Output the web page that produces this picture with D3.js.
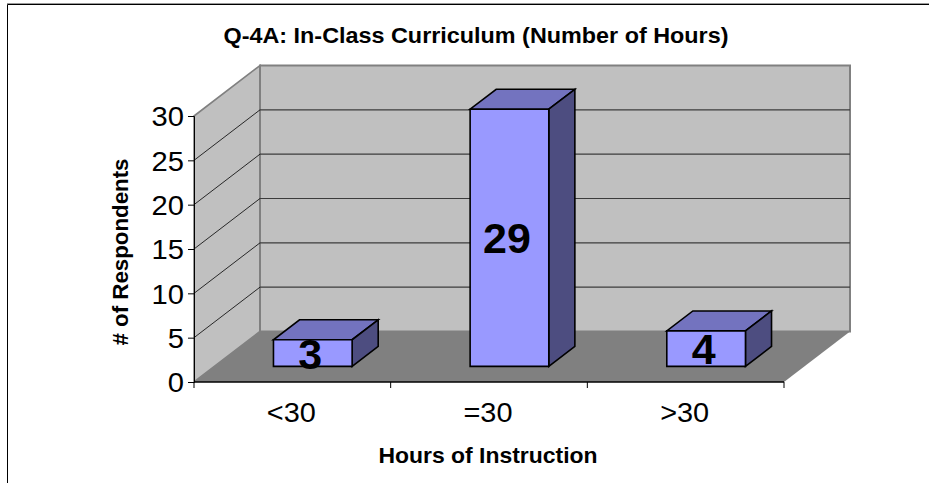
<!DOCTYPE html>
<html><head><meta charset="utf-8">
<script src="https://cdn.jsdelivr.net/npm/d3@7"></script>
<style>html,body{margin:0;padding:0;background:#fff}svg{display:block}text{font-family:"Liberation Sans",Arial,sans-serif;fill:#000}</style>
</head><body><svg id="c" width="929" height="483"></svg>
<script>
const categories = ["<30", "=30", ">30"];
const values = [3, 29, 4];
const yTicks = [0, 5, 10, 15, 20, 25, 30];
const titleText = "Q-4A: In-Class Curriculum (Number of Hours)";
const xTitleText = "Hours of Instruction";
const yTitleText = "# of Respondents";

const svg = d3.select("#c");
const x = d3.scaleBand().domain(categories).range([194, 784]);
const y = d3.scaleLinear().domain([0, 30]).range([382, 116]);
const dx = d3.scaleLinear().domain([0, 1]).range([0, 66]);
const dy = d3.scaleLinear().domain([0, 1]).range([0, -50.5]);
const [x0, x1] = x.range();
const P = (px, v, d) => [px + dx(d), y(v) + dy(d)];
const line = d3.line();
const poly = (pts, fill, stroke, sw) => svg.append("path")
  .attr("d", line(pts) + "Z").attr("fill", fill)
  .attr("stroke", stroke || "none").attr("stroke-width", sw || 0).attr("stroke-linejoin", "miter");
const stretch = (sel, k) => sel.each(function () {
  d3.select(this).attr("textLength", this.getComputedTextLength() * k).attr("lengthAdjust", "spacingAndGlyphs");
});

// frame
svg.append("path").attr("d", "M7,3.5H929").attr("fill", "none").attr("stroke", "#999").attr("stroke-width", 1);
svg.append("path").attr("d", "M7.5,483V4.5H929").attr("fill", "none").attr("stroke", "#000").attr("stroke-width", 1);

// walls and floor
poly([P(x0,0,0), P(x0,30,0), P(x0,30,1), P(x0,0,1)], "#C0C0C0", "#808080", 1.6);
poly([P(x0,0,1), P(x0,30,1), P(x1,30,1), P(x1,0,1)], "#C0C0C0", "#808080", 2);
poly([P(x0,0,0), P(x0,0,1), P(x1,0,1), P(x1,0,0)], "#808080");

// gridlines
yTicks.filter(t => t > 0 && t < 30).forEach(t => {
  svg.append("path").attr("d", line([P(x0,t,0), P(x0,t,1)])).attr("fill", "none").attr("stroke", "#000").attr("stroke-width", 0.8);
  svg.append("path").attr("d", line([P(x0,t,1), P(x1,t,1)])).attr("fill", "none").attr("stroke", "#3c3c3c").attr("stroke-width", 1.2);
});

// y axis
const gy = svg.append("g").attr("transform", `translate(${x0},0)`)
  .call(d3.axisLeft(y).tickValues(yTicks).tickSize(6).tickPadding(4));
const gyText = gy.selectAll("text").style("font-family", '"Liberation Sans",Arial,sans-serif').style("font-size", "27px").attr("fill", "#000").attr("dy", "0.36em");
stretch(gyText, 1.08);
gy.selectAll("line,path").attr("stroke", "#000").attr("stroke-width", 1);

// x axis
svg.append("path").attr("d", line([[x0, y(0)], [x1, y(0)]])).attr("stroke", "#000").attr("stroke-width", 1.5);
[x0, ...categories.map(c => x(c) + x.bandwidth())].forEach(p => {
  svg.append("path").attr("d", line([[p, y(0)], [p, y(0) + 6]])).attr("stroke", "#000").attr("stroke-width", 1);
});
const catText = svg.selectAll(".cat").data(categories).join("text").attr("class", "cat")
  .attr("x", c => x(c) + x.bandwidth() / 2 - 1).attr("y", 421.5).attr("text-anchor", "middle")
  .style("font-size", "27px").text(c => c);
stretch(catText, 1.07);

// bars
const dFront = 0.31, dBack = 0.705, barW = 0.4;
values.forEach((v, i) => {
  const c = categories[i];
  const l = x(c) + x.bandwidth() * (0.5 - barW / 2);
  const r = x(c) + x.bandwidth() * (0.5 + barW / 2);
  poly([P(l,v,dFront), P(r,v,dFront), P(r,v,dBack), P(l,v,dBack)], "#7373BF", "#000", 1.6);
  poly([P(r,0,dFront), P(r,v,dFront), P(r,v,dBack), P(r,0,dBack)], "#4D4D80", "#000", 1.6);
  poly([P(l,0,dFront), P(l,v,dFront), P(r,v,dFront), P(r,0,dFront)], "#9999FF", "#000", 1.6);
  const c0 = P((l + r) / 2, v / 2, dFront);
  svg.append("text").attr("class", "val").attr("x", c0[0] - 2.5).attr("y", c0[1] + 15.5)
    .attr("text-anchor", "middle").attr("font-weight", "bold").style("font-size", "43px").text(v);
});

// titles
const boldText = (s, len) => s.attr("text-anchor", "middle").attr("font-weight", "bold").style("font-size", "21.5px")
  .attr("textLength", len).attr("lengthAdjust", "spacingAndGlyphs");
boldText(svg.append("text").attr("x", 476).attr("y", 43).text(titleText), 505);
boldText(svg.append("text").attr("x", 488).attr("y", 463).text(xTitleText), 219);
boldText(svg.append("text").attr("transform", "translate(128,252) rotate(-90)").text(yTitleText), 187);
</script></body></html>
